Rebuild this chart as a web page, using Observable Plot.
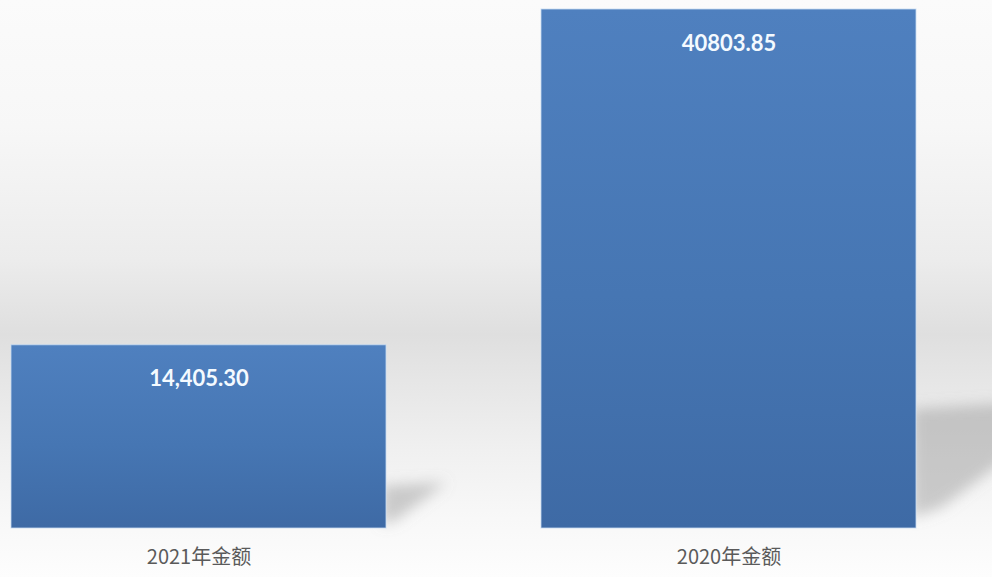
<!DOCTYPE html>
<html>
<head>
<meta charset="utf-8">
<script src="https://cdn.jsdelivr.net/npm/d3@7"></script>
<script src="https://cdn.jsdelivr.net/npm/@observablehq/plot@0.6"></script>
<style>
  html, body { margin: 0; padding: 0; background: #ffffff; }
  #chart svg { display: block; }
</style>
</head>
<body>
<div id="chart"></div>
<script>
// Data
const categories = ["2021年金额", "2020年金额"];
const amounts = [14405.30, 40803.85];
const valueLabels = ["14,405.30", "40803.85"];

const data = categories.map((c, i) => ({category: c, amount: amounts[i], label: valueLabels[i]}));

const chart = Plot.plot({
  width: 992,
  height: 577,
  marginTop: 9,
  marginBottom: 49,
  marginLeft: 10,
  marginRight: 76,
  style: {
    background: "linear-gradient(to bottom, #fbfbfb 0%, #f7f7f7 22%, #ececec 45%, #dfdfdf 58%, #e6e6e6 66%, #f0f0f0 78%, #f8f8f8 90%, #fdfdfd 100%)",
    fontFamily: "'Noto Sans CJK SC', 'Noto Sans', sans-serif"
  },
  x: {type: "band", domain: categories, paddingInner: 0.2925, paddingOuter: 0, axis: null, label: null},
  y: {domain: [0, 40803.85], axis: null},
  marks: [
    Plot.barY(data, {
      x: "category",
      y: "amount",
      fill: "url(#barGrad)",
      stroke: "#c8dcf2",
      strokeWidth: 1,
      strokeOpacity: 0.8
    }),
    Plot.text(data, {
      x: "category",
      y: "amount",
      text: "label",
      dy: 34,
      fill: "#f4faff",
      fontSize: 22,
      fontWeight: 700,
      fontFamily: "Lato, 'Open Sans', sans-serif"
    }),
    Plot.axisX({
      tickSize: 0,
      tickPadding: 21,
      fontSize: 20,
      fill: "#5a5a5a",
      label: null,
      fontFamily: "'Noto Sans CJK SC', sans-serif"
    })
  ]
});

document.getElementById("chart").appendChild(chart);

// gradients and shadow filter
const svg = d3.select(chart);
const defs = svg.insert("defs", ":first-child");
const g = defs.append("linearGradient").attr("id", "barGrad")
  .attr("x1", 0).attr("y1", 0).attr("x2", 0).attr("y2", 1);
g.append("stop").attr("offset", "0%").attr("stop-color", "#4f80bf");
g.append("stop").attr("offset", "55%").attr("stop-color", "#4676b3");
g.append("stop").attr("offset", "100%").attr("stop-color", "#3e6aa5");
const f = defs.append("filter").attr("id", "shadowBlur")
  .attr("x", "-50%").attr("y", "-50%").attr("width", "200%").attr("height", "200%");
f.append("feGaussianBlur").attr("stdDeviation", 7);

// perspective shadows computed from Plot's own scales
const xs = chart.scale("x");
const ys = chart.scale("y");
const bw = xs.bandwidth;
const base = ys.apply(0);
const shadowG = svg.insert("g", "g[aria-label='bar']").attr("filter", "url(#shadowBlur)");
data.forEach(d => {
  const R = xs.apply(d.category) + bw;
  const top = ys.apply(d.amount);
  const H = base - top;
  const pts = [
    [R - 4, base - 0.02 * H],
    [R - 4, base - 0.23 * H],
    [R + 0.33 * H, base - 0.25 * H],
    [R + 0.05 * H, base - 0.04 * H]
  ];
  shadowG.append("path")
    .attr("d", "M" + pts.map(p => p.join(",")).join("L") + "Z")
    .attr("fill", "#8c8c8c")
    .attr("fill-opacity", 0.42);
});
</script>
</body>
</html>
